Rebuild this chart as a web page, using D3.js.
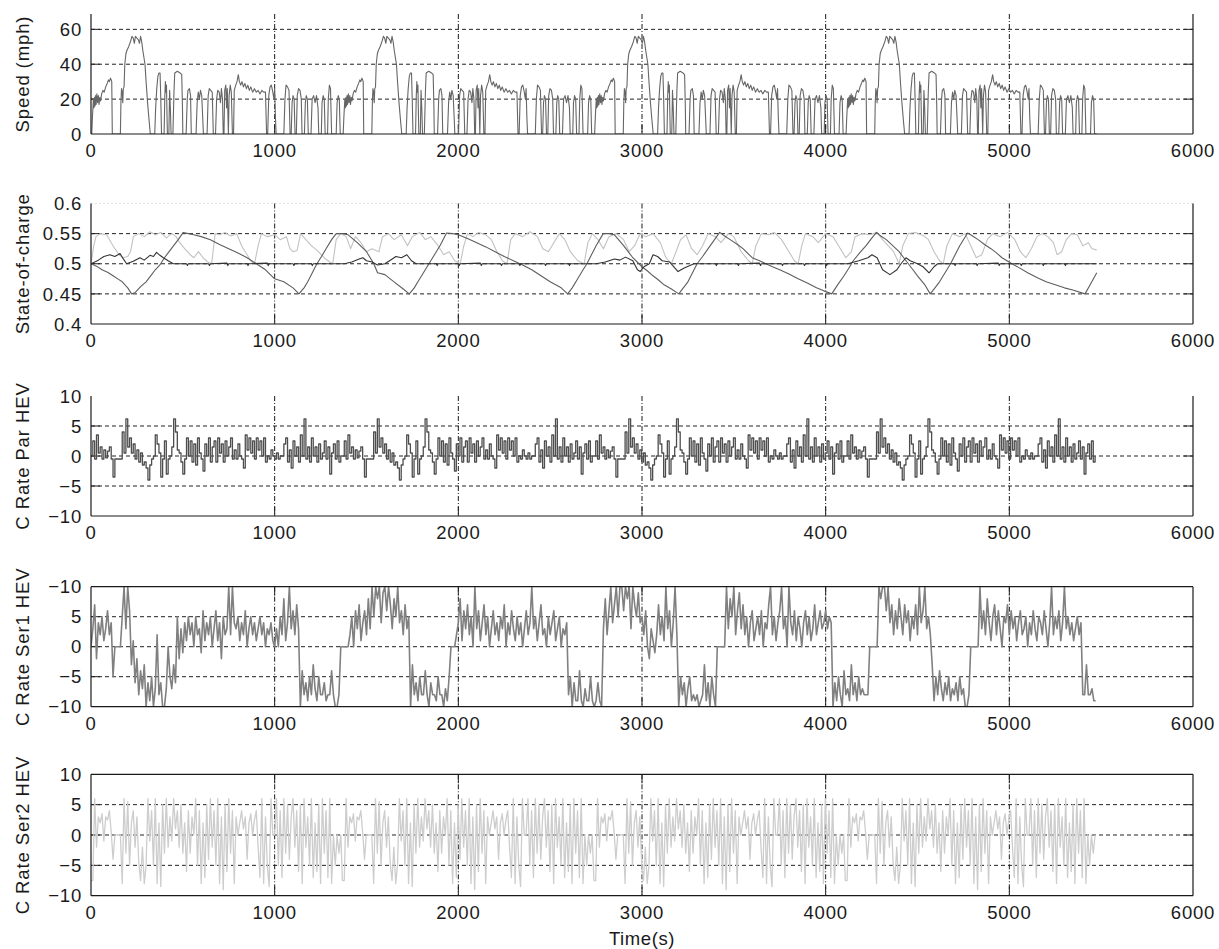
<!DOCTYPE html>
<html><head><meta charset="utf-8">
<script src="https://cdn.jsdelivr.net/npm/d3@7"></script>
<style>
html,body{margin:0;padding:0;background:#fff;}
text{font-family:"Liberation Sans",Arial,Helvetica,sans-serif;fill:#1a1a1a;}
</style></head>
<body>
<svg id="chart" width="1219" height="949"></svg>
<script>
// ---------------- DATA ----------------
const xTicks = [0, 1000, 2000, 3000, 4000, 5000, 6000];
const cycleOffsets = [0, 1369, 2738, 4107];   // the drive cycle is shown four times
const sampleStep = 10;                        // seconds between samples of the C-rate traces

// Speed (mph), one drive cycle, [time s, speed]
const speedCycle = [[0,0],[4,0],[8,10],[13,20],[16,15],[19,21],[22,16],[25,22],[28,17],[32,23],[36,18],[40,22],[44,17],[48,21],[52,19],[58,23],[65,25],[72,24],[80,27],[88,29],[95,31],[100,30],[106,32],[110,31],[113,30],[116,0],
[160,0],[163,18],[166,26],[170,24],[173,18],[176,26],[180,27],[184,40],[190,46],[196,48],[205,50],[215,53],[223,56],[230,55],[236,52],[242,56],[250,55],[258,54],[264,52],[270,56],[276,53],[282,48],[288,44],[294,40],[300,30],[308,18],[316,8],[323,0],
[347,0],[352,15],[358,26],[364,33],[370,35],[376,35],[380,20],[384,0],
[398,0],[402,22],[405,30],[408,24],[411,28],[414,10],[416,0],
[424,0],[428,25],[432,15],[436,0],
[446,0],[452,25],[456,35],[470,36],[485,35],[494,34],[498,15],[500,0],
[518,0],[524,20],[528,25],[536,26],[542,22],[546,0],
[572,0],[578,18],[584,24],[590,20],[596,25],[603,22],[608,10],[612,0],
[632,0],[638,22],[644,26],[652,25],[660,24],[666,0],
[678,0],[684,20],[690,25],[698,24],[705,18],[710,26],[716,20],[720,0],
[724,0],[728,25],[734,28],[738,15],[742,26],[748,0],[752,22],[758,28],[764,24],[770,0],
[776,0],[780,25],[788,28],[795,30],[802,34],[808,30],[815,28],[822,30],[830,27],[838,29],[846,26],[854,28],[862,25],[870,27],[880,24],[890,26],[900,24],[910,25],[920,23],[930,25],[940,24],[950,24],[956,0],
[962,0],[968,22],[975,27],[982,28],[990,24],[996,20],[1000,26],[1004,10],[1008,0],
[1050,0],[1056,20],[1062,28],[1070,27],[1078,25],[1084,0],
[1090,0],[1095,18],[1100,22],[1106,20],[1111,0],
[1118,0],[1123,22],[1130,26],[1138,25],[1145,20],[1149,0],
[1162,0],[1167,18],[1172,22],[1178,20],[1183,0],
[1198,0],[1204,20],[1212,22],[1220,18],[1228,22],[1236,15],[1240,0],
[1254,0],[1258,18],[1264,22],[1270,20],[1275,0],
[1288,0],[1292,20],[1298,28],[1304,26],[1310,0],
[1335,0],[1340,18],[1346,22],[1352,20],[1357,0],[1369,0]];

// State of charge, [time s, SOC]
const socPar = [[0,0.5],[40,0.506],[70,0.512],[103,0.515],[130,0.512],[158,0.517],[176,0.508],[194,0.5],[230,0.504],[267,0.51],[290,0.506],[321,0.514],[340,0.512],[357,0.519],[375,0.514],[394,0.51],[420,0.505],[448,0.5],[520,0.5],[525,0.497],[530,0.5],[640,0.5],[645,0.497],[650,0.5],[740,0.501],[745,0.497],[750,0.5],[850,0.5],[855,0.497],[860,0.5],[960,0.501],[965,0.497],[970,0.5],[1100,0.5],[1105,0.497],[1110,0.5],[1200,0.5],[1205,0.497],[1210,0.5],[1380,0.5],[1420,0.503],[1460,0.508],[1480,0.51],[1500,0.505],[1530,0.503],[1560,0.498],[1600,0.5],[1640,0.508],[1660,0.512],[1690,0.51],[1720,0.515],[1745,0.505],[1770,0.5],[1880,0.5],[1885,0.497],[1890,0.5],[2000,0.5],[2005,0.497],[2010,0.5],[2120,0.501],[2125,0.497],[2130,0.5],[2230,0.5],[2235,0.497],[2240,0.5],[2330,0.5],[2335,0.497],[2340,0.5],[2470,0.5],[2475,0.497],[2480,0.5],[2600,0.5],[2605,0.497],[2610,0.5],[2750,0.5],[2800,0.503],[2850,0.508],[2880,0.506],[2910,0.511],[2950,0.505],[2975,0.49],[2990,0.487],[3010,0.495],[3040,0.5],[3060,0.515],[3085,0.512],[3110,0.505],[3150,0.503],[3196,0.487],[3230,0.493],[3283,0.5],[3400,0.5],[3405,0.497],[3410,0.5],[3520,0.5],[3525,0.497],[3530,0.5],[3640,0.501],[3645,0.497],[3650,0.5],[3760,0.5],[3765,0.497],[3770,0.5],[3880,0.5],[3885,0.497],[3890,0.5],[4000,0.5],[4005,0.497],[4010,0.5],[4120,0.5],[4180,0.505],[4230,0.51],[4252,0.515],[4280,0.51],[4310,0.49],[4350,0.482],[4388,0.49],[4410,0.5],[4437,0.51],[4460,0.505],[4500,0.5],[4530,0.495],[4563,0.485],[4590,0.495],[4610,0.5],[4700,0.5],[4705,0.497],[4710,0.5],[4820,0.5],[4825,0.497],[4830,0.5],[4940,0.501],[4945,0.497],[4950,0.5],[5060,0.5],[5065,0.497],[5070,0.5],[5180,0.5],[5185,0.497],[5190,0.5],[5300,0.5],[5305,0.497],[5310,0.5],[5476,0.5]];

const socSer1 = [[0,0.5],[30,0.496],[60,0.49],[90,0.486],[120,0.48],[150,0.474],[170,0.47],[200,0.46],[221,0.45],[240,0.452],[270,0.462],[300,0.47],[330,0.482],[350,0.49],[375,0.498],[400,0.51],[425,0.52],[450,0.53],[475,0.54],[502,0.552],[530,0.55],[560,0.548],[600,0.545],[650,0.54],[700,0.532],[750,0.525],[800,0.518],[850,0.51],[900,0.5],[950,0.49],[1000,0.475],[1050,0.47],[1100,0.46],[1132,0.45],[1160,0.46],[1180,0.47],[1205,0.485],[1230,0.5],[1255,0.512],[1280,0.525],[1310,0.54],[1335,0.55],[1370,0.55],[1400,0.548],[1450,0.535],[1500,0.52],[1520,0.51],[1540,0.5],[1560,0.485],[1600,0.482],[1650,0.47],[1700,0.458],[1733,0.45],[1760,0.46],[1780,0.47],[1810,0.485],[1840,0.5],[1870,0.515],[1900,0.53],[1936,0.551],[1970,0.55],[2000,0.548],[2050,0.542],[2100,0.535],[2150,0.528],[2200,0.52],[2250,0.512],[2300,0.505],[2350,0.498],[2400,0.49],[2450,0.48],[2500,0.47],[2560,0.46],[2595,0.45],[2620,0.46],[2650,0.475],[2675,0.488],[2700,0.5],[2725,0.515],[2750,0.53],[2789,0.55],[2820,0.55],[2850,0.548],[2900,0.53],[2950,0.51],[3000,0.495],[3030,0.488],[3060,0.48],[3090,0.473],[3120,0.465],[3160,0.458],[3200,0.45],[3225,0.46],[3250,0.47],[3275,0.485],[3300,0.5],[3330,0.512],[3360,0.525],[3390,0.538],[3423,0.552],[3450,0.546],[3480,0.54],[3520,0.532],[3550,0.525],[3600,0.51],[3640,0.505],[3675,0.5],[3710,0.495],[3750,0.49],[3800,0.483],[3850,0.475],[3900,0.468],[3950,0.46],[3990,0.455],[4033,0.45],[4065,0.465],[4100,0.48],[4125,0.492],[4150,0.505],[4185,0.518],[4220,0.53],[4250,0.542],[4276,0.552],[4300,0.546],[4330,0.54],[4365,0.53],[4400,0.52],[4425,0.51],[4450,0.5],[4475,0.49],[4500,0.48],[4540,0.465],[4569,0.45],[4595,0.46],[4620,0.47],[4650,0.485],[4680,0.5],[4705,0.515],[4730,0.53],[4773,0.551],[4800,0.546],[4830,0.54],[4865,0.532],[4900,0.525],[4930,0.518],[4960,0.51],[5014,0.5],[5050,0.494],[5100,0.485],[5150,0.477],[5200,0.47],[5250,0.465],[5300,0.46],[5350,0.456],[5412,0.45],[5440,0.465],[5476,0.485]];

const socSer2 = [[0,0.5],[15,0.53],[27,0.545],[50,0.55],[85,0.548],[110,0.535],[130,0.525],[153,0.515],[175,0.51],[200,0.512],[215,0.52],[231,0.545],[260,0.55],[290,0.545],[320,0.553],[350,0.548],[380,0.552],[410,0.543],[440,0.55],[463,0.545],[483,0.535],[510,0.525],[540,0.515],[560,0.51],[585,0.52],[610,0.51],[635,0.503],[657,0.5],[676,0.55],[700,0.548],[730,0.552],[760,0.546],[793,0.55],[820,0.53],[850,0.515],[870,0.505],[890,0.5],[910,0.53],[928,0.55],[960,0.545],[1000,0.548],[1030,0.54],[1064,0.545],[1083,0.525],[1100,0.52],[1122,0.522],[1141,0.55],[1170,0.54],[1200,0.53],[1238,0.52],[1270,0.51],[1300,0.503],[1316,0.5],[1335,0.54],[1360,0.55],[1390,0.545],[1413,0.525],[1440,0.545],[1470,0.535],[1500,0.52],[1530,0.525],[1568,0.52],[1587,0.545],[1620,0.55],[1650,0.54],[1690,0.548],[1723,0.53],[1750,0.545],[1790,0.552],[1820,0.54],[1850,0.545],[1890,0.53],[1920,0.515],[1950,0.52],[1980,0.505],[2010,0.5],[2030,0.53],[2050,0.55],[2080,0.545],[2110,0.552],[2150,0.548],[2180,0.54],[2210,0.52],[2240,0.505],[2265,0.5],[2285,0.54],[2310,0.55],[2350,0.545],[2390,0.553],[2430,0.545],[2460,0.525],[2490,0.52],[2520,0.535],[2550,0.55],[2580,0.54],[2610,0.52],[2650,0.505],[2685,0.5],[2705,0.535],[2730,0.55],[2760,0.54],[2790,0.525],[2820,0.545],[2860,0.55],[2900,0.54],[2930,0.52],[2960,0.53],[2990,0.55],[3020,0.545],[3060,0.55],[3100,0.535],[3130,0.51],[3160,0.5],[3185,0.52],[3210,0.54],[3240,0.548],[3270,0.525],[3300,0.515],[3330,0.53],[3360,0.55],[3400,0.545],[3430,0.535],[3470,0.55],[3500,0.545],[3540,0.52],[3580,0.505],[3600,0.5],[3620,0.53],[3650,0.55],[3690,0.548],[3720,0.552],[3760,0.54],[3800,0.52],[3830,0.505],[3850,0.5],[3870,0.53],[3890,0.55],[3930,0.545],[3960,0.535],[4000,0.55],[4040,0.545],[4080,0.525],[4110,0.51],[4140,0.52],[4160,0.545],[4200,0.55],[4240,0.548],[4280,0.552],[4310,0.54],[4340,0.53],[4370,0.52],[4400,0.5],[4420,0.53],[4450,0.55],[4490,0.552],[4530,0.547],[4560,0.54],[4590,0.52],[4620,0.505],[4640,0.5],[4660,0.53],[4690,0.55],[4730,0.545],[4760,0.55],[4790,0.53],[4820,0.51],[4850,0.515],[4880,0.54],[4910,0.55],[4950,0.545],[4990,0.552],[5030,0.54],[5060,0.52],[5090,0.51],[5120,0.525],[5150,0.545],[5180,0.55],[5210,0.545],[5240,0.535],[5260,0.515],[5285,0.52],[5310,0.54],[5340,0.55],[5370,0.548],[5400,0.53],[5430,0.535],[5450,0.525],[5476,0.523]];

// C-rate, parallel HEV: one cycle, one value every 10 s
const cRateParCycle = [0,2.5,-0.5,3.5,0.5,1.5,-0.5,1,-0.3,0.8,1.5,-0.5,-3.5,-0.5,-0.5,-0.5,-0.5,4,0.5,6.2,
1.5,3,0.5,2,-0.5,1,-1,0.5,-1.5,-1,-2,-4,-1.5,-0.5,0,3.5,2,0.5,-3.5,-0.5,
2.5,-3,-0.5,0,1.5,6.2,4,1,0.5,-1,-3,-0.5,3,0,2.5,-1,2,-1.5,3,0.5,
-0.5,-2.5,2,0,3,-1,1.5,2.5,-1,3,0.5,2,-1,2.5,0,1.5,3,-0.5,1,-0.5,
2,0,-0.5,-2,3.5,1,3,0.5,2.5,-0.5,3,1,2.5,0,3,-1,0,-0.5,1,0,
-0.5,0.5,-0.5,0,0,2,3,-1,1,-2,2.5,0,1.5,-1,3.5,0,6.2,-0.5,1.5,-1,
3,0,1.5,-1,2,-0.5,0.5,2.5,-0.5,1.5,-3,0.5,2,-0.5,2.5,-1,0];

// C-rate, series HEV 1: whole run, one value every 10 s
const cRateSer1 = [0,3,7,-2,4,2,5,1,3,6,2,4,
-5,0,0,0,0,
5,10,3,10,6,
-3,1,-6,-2,-8,-4,-7,-3,
-10,-6,-9,-5,-10,-7,2,-8,-6,-10,-10,-7,0,-5,
-7,-3,-6,5,-2,3,-1,4,1,5,
2,4,0,5,2,3,-1,6,1,4,2,5,0,3,6,1,4,-2,5,2,3,
10,2,10,4,
3,5,1,4,2,6,0,3,5,2,4,1,3,5,2,4,0,3,2,4,1,
0,3,0,5,2,8,1,4,10,3,6,2,7,3,
-10,-4,-8,-6,-9,-5,-8,-3,-7,-9,-5,-8,-8,-6,-9,-8,-8,-4,-8,-10,-10,-8,
0,0,0,0,0,
2,5,0,6,3,7,1,4,6,2,8,3,
10,5,10,8,10,4,9,10,6,10,7,3,8,5,10,4,6,2,7,3,5,
-10,-3,-8,-6,-9,-5,-8,-8,-4,-8,-10,-6,-8,-8,-9,-5,-8,-8,-10,-7,-9,
-5,0,0,0,2,
4,8,1,6,3,7,2,5,0,10,3,6,1,4,7,2,5,0,3,6,2,4,1,5,3,7,0,4,2,6,3,1,5,2,4,0,3,6,2,4,10,3,5,1,4,7,2,3,0,5,2,4,6,1,3,5,0,3,2,4,
-8,-5,-10,-6,-9,-9,-4,-9,-10,-7,-9,-9,-5,-9,-10,-9,-6,-9,-10,
3,8,2,6,10,4,7,10,5,10,10,6,10,8,10,3,10,7,5,9,4,
5,2,6,0,-2,3,1,-1,2,
7,2,5,1,10,3,6,0,4,10,2,
-10,-5,-8,-6,-10,-7,-5,-9,-8,-9,-8,-10,-9,-8,-3,-9,-6,-10,-5,-8,-10,
0,0,0,0,0,
10,3,8,5,10,2,6,9,3,7,
2,5,0,4,6,1,3,5,2,6,0,4,3,7,10,2,5,1,4,6,10,3,5,0,10,4,2,6,1,5,3,0,4,6,2,5,1,3,7,2,4,6,3,
4,6,3,5,4,
-10,-6,-9,-5,-8,-10,-4,-8,-7,-9,-3,-8,-6,-9,-5,-8,-7,-8,-8,-8,
0,0,0,0,0,
10,8,10,10,6,10,4,7,2,6,3,8,5,2,7,4,6,1,5,3,7,2,10,4,6,10,3,5,2,
-3,-9,-5,-8,-4,-7,-9,-6,-8,-5,-9,-7,-8,-6,-9,-5,-8,-7,-10,-10,-8,
0,0,0,0,0,
10,3,6,2,8,4,1,5,7,2,6,3,0,5,4,7,2,6,3,5,1,4,6,2,3,5,0,4,2,6,3,1,5,4,2,6,3,0,4,10,2,5,3,6,1,4,10,3,5,2,4,1,3,5,2,4,
-8,-8,-3,-8,-8,-7,-9,-9];

// C-rate, series HEV 2: one cycle, one value every 10 s
const cRateSer2Cycle = [-7.5,-7.5,6,-2,3,2,3.5,-1,3,2.5,4,0.5,-4,0,0,0,0,-8,6,-3,
5.5,-5,2,4,-2,3,-4.5,-7.5,-2,-8,-5,6,-1,4,-5,6,-8,2,-8.5,5,
-3,6,-2,3,-1,6,1,4,-2,5,-3,2,-6,4,-3,3,0,6,-5,4,
-8,2,-7,5,-4,6,-2,4,-5,6,-8,3,-9,5,-6,6,-3,4,-8,3,
0,2,4,1,3,-4,2,3.5,0,2.5,4,-2,-7,6,-8,3,-5,-8.5,6,0,
0,6,-5,4,-7,6,-3,5,-4,3,6,-2,4,-6,5,-8,6,-2,3,-5,
6,-7,2,-6,5,-8,6,-3,4,-7,6,-8,0,-5,0,-3,0];

// axis tick labels per panel
const speedTicks = [0, 20, 40, 60];
const socTicks = [0.4, 0.45, 0.5, 0.55, 0.6];
const socTickLabels = ["0.4", "0.45", "0.5", "0.55", "0.6"];
const rateTicks = [-10, -5, 0, 5, 10];
const rateTickLabels = ["\u221210", "\u22125", "0", "5", "10"];
const ser1TickLabels = ["\u221210", "\u22125", "0", "5", "\u221210"];

// ---------------- BUILD SERIES ----------------
const speedSeries = [];
cycleOffsets.forEach(o => speedCycle.forEach(([t, v]) => speedSeries.push([t + o, v])));
function repeatCycle(vals) {
  const out = [];
  cycleOffsets.forEach(o => vals.forEach((v, i) => out.push([o + i * sampleStep, v])));
  return out;
}
const parSeries = repeatCycle(cRateParCycle);
const ser2Series = repeatCycle(cRateSer2Cycle);
const ser1Series = cRateSer1.map((v, i) => [i * sampleStep, v]);

// ---------------- DRAW ----------------
const svg = d3.select("#chart");
const X0 = 91, X1 = 1193;
const x = d3.scaleLinear().domain([0, 6000]).range([X0, X1]);

const panels = [
  {top: 14, bottom: 134, domain: [0, 68.8], ticks: speedTicks, labels: speedTicks.map(String), grid: [20, 40, 60], label: "Speed (mph)", topBorder: false},
  {top: 203.5, bottom: 324, domain: [0.4, 0.6], ticks: socTicks, labels: socTickLabels, grid: [0.45, 0.5, 0.55], label: "State-of-charge", topBorder: false, faintTop: true},
  {top: 396, bottom: 516, domain: [-10, 10], ticks: rateTicks, labels: rateTickLabels, grid: [-5, 0, 5], label: "C Rate Par HEV", topBorder: false},
  {top: 586.7, bottom: 706.7, domain: [-10, 10], ticks: rateTicks, labels: ser1TickLabels, grid: [-5, 0, 5], label: "C Rate Ser1 HEV", topBorder: true},
  {top: 774.3, bottom: 895.7, domain: [-10, 10], ticks: rateTicks, labels: rateTickLabels, grid: [-5, 0, 5], label: "C Rate Ser2 HEV", topBorder: true}
];

const defs = svg.append("defs");
panels.forEach((p, k) => {
  p.y = d3.scaleLinear().domain(p.domain).range([p.bottom, p.top]);
  defs.append("clipPath").attr("id", "clip" + k).append("rect")
    .attr("x", X0).attr("y", p.top).attr("width", X1 - X0).attr("height", p.bottom - p.top);
});

const FS = 18.5;
panels.forEach((p, k) => {
  const g = svg.append("g");
  g.selectAll(".hg").data(p.grid).join("line")
    .attr("x1", X0).attr("x2", X1).attr("y1", d => p.y(d)).attr("y2", d => p.y(d))
    .attr("stroke", "#222").attr("stroke-width", 1).attr("stroke-dasharray", "4,3");
  if (p.faintTop) {
    g.append("line").attr("x1", X0).attr("x2", X1).attr("y1", p.top).attr("y2", p.top)
      .attr("stroke", "#e2e2e2").attr("stroke-width", 1).attr("stroke-dasharray", "2,2");
  }
  g.selectAll(".vg").data(xTicks.slice(1, -1)).join("line")
    .attr("x1", d => x(d)).attr("x2", d => x(d)).attr("y1", p.top).attr("y2", p.bottom)
    .attr("stroke", "#1a1a1a").attr("stroke-width", 1).attr("stroke-dasharray", "5,2,1,2");
  g.selectAll(".tl").data(p.grid).join("line")
    .attr("x1", X1 - 9).attr("x2", X1).attr("y1", d => p.y(d)).attr("y2", d => p.y(d))
    .attr("stroke", "#222").attr("stroke-width", 1);
  g.selectAll(".tr").data(p.grid).join("line")
    .attr("x1", X0).attr("x2", X0 + 9).attr("y1", d => p.y(d)).attr("y2", d => p.y(d))
    .attr("stroke", "#222").attr("stroke-width", 1);
  g.selectAll(".tb").data(xTicks.slice(1, -1)).join("line")
    .attr("x1", d => x(d)).attr("x2", d => x(d)).attr("y1", p.bottom).attr("y2", p.bottom - 9)
    .attr("stroke", "#222").attr("stroke-width", 1);
  if (p.topBorder) {
    g.selectAll(".tt").data(xTicks.slice(1, -1)).join("line")
      .attr("x1", d => x(d)).attr("x2", d => x(d)).attr("y1", p.top).attr("y2", p.top + 9)
      .attr("stroke", "#222").attr("stroke-width", 1);
  }
});

function drawLine(p, k, data, color, width, curve) {
  svg.append("path").datum(data)
    .attr("clip-path", `url(#clip${k})`)
    .attr("fill", "none").attr("stroke", color).attr("stroke-width", width)
    .attr("stroke-linejoin", "round")
    .attr("d", d3.line().x(d => x(d[0])).y(d => p.y(d[1])).curve(curve || d3.curveLinear));
}
drawLine(panels[0], 0, speedSeries, "#666666", 1.1);
drawLine(panels[1], 1, socSer2, "#c2c2c2", 1.1);
drawLine(panels[1], 1, socSer1, "#5e5e5e", 1.1);
drawLine(panels[1], 1, socPar, "#333333", 1.1);
drawLine(panels[2], 2, parSeries, "#4e4e4e", 1.3, d3.curveStepAfter);
drawLine(panels[3], 3, ser1Series, "#808080", 1.6);
drawLine(panels[4], 4, ser2Series, "#cdcdcd", 1.3);

panels.forEach((p, k) => {
  const g = svg.append("g");
  g.append("line").attr("x1", X0).attr("x2", X0).attr("y1", p.top).attr("y2", p.bottom).attr("stroke", "#1a1a1a").attr("stroke-width", 1.2);
  g.append("line").attr("x1", X0).attr("x2", X1).attr("y1", p.bottom).attr("y2", p.bottom).attr("stroke", "#1a1a1a").attr("stroke-width", 1.2);
  g.append("line").attr("x1", X1).attr("x2", X1).attr("y1", p.top).attr("y2", p.bottom).attr("stroke", "#1a1a1a").attr("stroke-width", 1.2);
  if (p.topBorder) g.append("line").attr("x1", X0).attr("x2", X1).attr("y1", p.top).attr("y2", p.top).attr("stroke", "#1a1a1a").attr("stroke-width", 1.2);

  g.selectAll(".yl").data(p.ticks).join("text")
    .attr("x", 82).attr("y", d => p.y(d)).attr("dy", "0.36em")
    .attr("text-anchor", "end").attr("font-size", FS).attr("letter-spacing", "0.8px")
    .text((d, i) => p.labels[i]);
  g.selectAll(".xl").data(xTicks).join("text")
    .attr("x", d => x(d)).attr("y", p.bottom + 23)
    .attr("text-anchor", "middle").attr("font-size", FS).attr("letter-spacing", "0.8px")
    .text(d => String(d));
  g.append("text")
    .attr("transform", `translate(29,${(p.top + p.bottom) / 2}) rotate(-90)`)
    .attr("text-anchor", "middle").attr("font-size", 18.5).attr("letter-spacing", "0.9px")
    .text(p.label);
});

svg.append("text").attr("x", (X0 + X1) / 2).attr("y", 945)
  .attr("text-anchor", "middle").attr("font-size", FS).attr("letter-spacing", "0.6px")
  .text("Time(s)");
</script>
</body></html>
